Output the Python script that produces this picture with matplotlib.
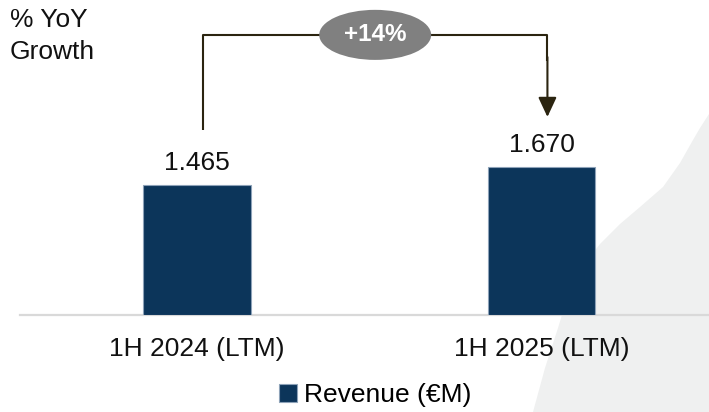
import matplotlib.pyplot as plt
from matplotlib.patches import Ellipse, Polygon

plt.rcParams['font.family'] = ['Liberation Sans', 'DejaVu Sans']

categories = ["1H 2024 (LTM)", "1H 2025 (LTM)"]
revenue = [1.465, 1.670]
value_labels = ["1.465", "1.670"]
growth_label = "+14%"
legend_label = "Revenue (\u20acM)"

W, H = 709, 412


def main():
    fig = plt.figure(figsize=(W / 100, H / 100), dpi=100)

    # light grey decorative shape on the right (pixel coords, top origin)
    shape_px = [(709, 114), (700, 128), (693, 140), (680, 163), (663, 187),
                (640, 207), (620, 224), (600, 244), (586, 262), (574, 284),
                (565, 305), (558, 328), (545, 368), (533, 412), (709, 412)]
    shape = Polygon([(x / W, 1 - y / H) for x, y in shape_px], closed=True,
                    transform=fig.transFigure, facecolor='#eff0f0',
                    edgecolor='none', zorder=0)
    fig.patches.append(shape)

    ax = fig.add_axes([20 / W, (H - 315) / H, (W - 20) / W, 315 / H])
    ax.set_zorder(2)
    ax.patch.set_visible(False)

    x = list(range(len(categories)))
    bars = ax.bar(x, revenue, width=0.313, color='#0c355a',
                  edgecolor='#8da2b8', linewidth=0.8, label=legend_label,
                  zorder=3)
    ax.bar_label(bars, labels=value_labels, padding=7, fontsize=19,
                 color='#111111')

    ax.set_xlim(-0.514, 1.486)
    ax.set_ylim(0, 3.55)
    ax.set_xticks(x)
    ax.set_xticklabels(categories, fontsize=19, color='#111111')
    ax.tick_params(axis='x', length=0, pad=16)
    ax.set_yticks([])
    for s in ['top', 'right', 'left']:
        ax.spines[s].set_visible(False)
    ax.spines['bottom'].set_color('#d9d9d9')
    ax.spines['bottom'].set_linewidth(1.6)

    # growth bracket
    line_col = '#2b2410'
    x0, x1 = x[0] + 0.017, x[1] + 0.017
    y_top = 3.157
    y_left = revenue[0] + 0.62
    y_tip = revenue[1] + 0.562
    ax.plot([x0, x0, x1, x1], [y_left, y_top, y_top, y_top - 0.3],
            color=line_col, lw=1.5, solid_capstyle='butt', zorder=4)
    ax.annotate("", xy=(x1, y_tip), xytext=(x1, y_top - 0.25),
                arrowprops=dict(arrowstyle='-|>,head_length=0.6,head_width=0.28',
                                mutation_scale=20, color=line_col, lw=1.5,
                                shrinkA=0, shrinkB=0), zorder=4)
    ax.add_patch(Ellipse((0.517, y_top), 0.325, 0.564, facecolor='#808080',
                         edgecolor='none', zorder=5, clip_on=False))
    ax.text(0.517, y_top, growth_label, ha='center', va='center',
            fontsize=17.5, fontweight='bold', color='white', zorder=6)

    fig.text(10 / W, 1 - 20 / H, "% YoY", fontsize=19, va='center',
             color='#111111')
    fig.text(10 / W, 1 - 52 / H, "Growth", fontsize=19, va='center',
             color='#111111')

    fig.legend(loc='center', bbox_to_anchor=(375 / W, (H - 395) / H),
               frameon=False, fontsize=19, handlelength=0.7,
               handleheight=0.7, handletextpad=0.25)

    fig.savefig("out.png", dpi=100)


if __name__ == "__main__":
    main()
